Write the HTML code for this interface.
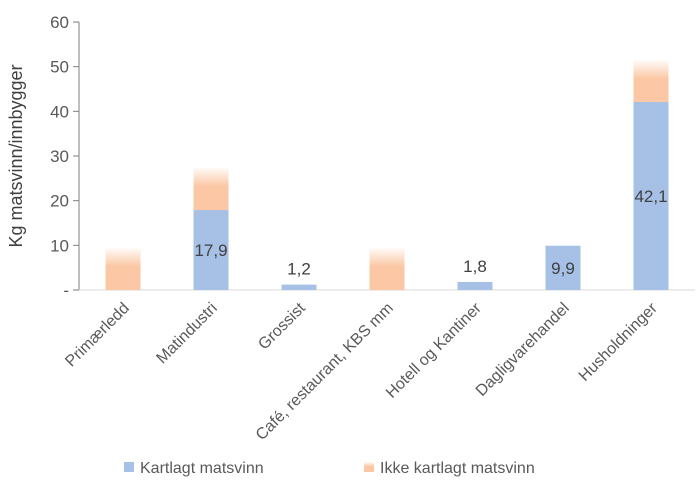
<!DOCTYPE html>
<html><head><meta charset="utf-8"><style>
body{margin:0;background:#fff;font-family:"Liberation Sans",sans-serif}
</style></head><body>
<svg id="c" width="700" height="492" xmlns="http://www.w3.org/2000/svg">
<defs><linearGradient id="og" x1="0" y1="1" x2="0" y2="0">
<stop offset="0" stop-color="#fbc7a4"/><stop offset="0.55" stop-color="#fbc7a4"/><stop offset="1" stop-color="#fbc7a4" stop-opacity="0.05"/></linearGradient></defs>
</svg>
<script>
const categories=["Primærledd","Matindustri","Grossist","Café, restaurant, KBS mm","Hotell og Kantiner","Dagligvarehandel","Husholdninger"];
const mapped=[0,17.9,1.2,0,1.8,9.9,42.1];
const unmapped=[9.5,9.6,0,9.5,0,0,9.4];
const labels=["","17,9","1,2","","1,8","9,9","42,1"];
const yTicks=[0,10,20,30,40,50,60];
const NS="http://www.w3.org/2000/svg";
const svg=document.getElementById('c');
const X0=79,BW=88,Y0=290,Y60=22;
const y=v=>Y0-(v/60)*(Y0-Y60);
const xc=i=>X0+BW*(i+0.5);
function mk(t,a,txt){const e=document.createElementNS(NS,t);for(const k in a)e.setAttribute(k,a[k]);if(txt!=null)e.textContent=txt;svg.appendChild(e);return e;}
let ax=mk('line',{x1:X0,y1:Y60,x2:X0,y2:Y0,stroke:'#7f7f7f','stroke-width':1});

let bx=mk('line',{x1:X0,y1:Y0,x2:X0+BW*7,y2:Y0,stroke:'#d9d9d9','stroke-width':1});

yTicks.forEach(v=>{
 let t=mk('line',{x1:X0-6,y1:y(v),x2:X0,y2:y(v),stroke:'#7f7f7f'});
 
 let l=mk('text',{x:X0-10,y:y(v)+6,'text-anchor':'end','font-size':17,fill:'#595959'},v===0?'-':String(v));
 
});
let yt=mk('text',{x:0,y:0,transform:'translate(22,156) rotate(-90)','text-anchor':'middle','font-size':18,fill:'#404040'},'Kg matsvinn/innbygger');

categories.forEach((c,i)=>{
 const w=35,x=xc(i)-w/2;
 if(mapped[i]>0){let r=mk('rect',{x:x,y:y(mapped[i]),width:w,height:Y0-y(mapped[i]),fill:'#a6c0e6'});
  }
 if(unmapped[i]>0){let r=mk('rect',{x:x,y:y(mapped[i]+unmapped[i]),width:w,height:y(mapped[i])-y(mapped[i]+unmapped[i]),fill:'url(#og)'});
  }
 if(labels[i]){const inside=mapped[i]>5;
  let t=mk('text',{x:xc(i),y:inside?y(mapped[i])+(Y0-y(mapped[i]))/2+6:y(mapped[i])-10,'text-anchor':'middle','font-size':17,fill:'#404040'},labels[i]);
  }
 let cl=mk('text',{x:0,y:0,transform:`translate(${xc(i)+7},${Y0+19}) rotate(-45)`,'text-anchor':'end','font-size':16,fill:'#595959'},c);
 
});
let s1=mk('rect',{x:124,y:462,width:10,height:10,fill:'#a6c0e6'});

let l1=mk('text',{x:140,y:473,'font-size':16,fill:'#595959'},'Kartlagt matsvinn');

let s2=mk('rect',{x:364,y:462,width:10,height:10,fill:'url(#og)'});

let l2=mk('text',{x:380,y:473,'font-size':16,fill:'#595959'},'Ikke kartlagt matsvinn');

</script>
</body></html>
